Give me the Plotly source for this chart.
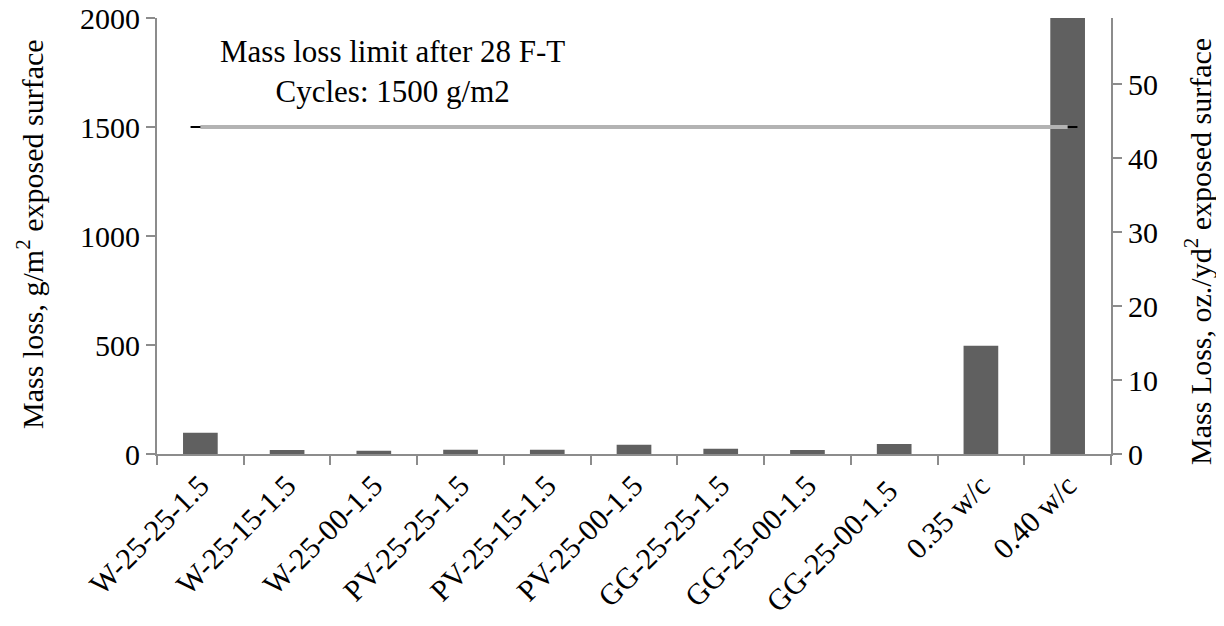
import plotly.graph_objects as go

categories = ["W-25-25-1.5", "W-25-15-1.5", "W-25-00-1.5", "PV-25-25-1.5", "PV-25-15-1.5",
              "PV-25-00-1.5", "GG-25-25-1.5", "GG-25-00-1.5", "GG-25-00-1.5 ", "0.35 w/c", "0.40 w/c"]
mass_loss = [98, 18, 15, 19, 19, 43, 24, 18, 46, 497, 2000]
limit_x = [categories[0], categories[-1]]
limit_y = [1500, 1500]
g_per_oz_yd2 = 33.906

font = dict(family="Liberation Serif", size=30, color="black")
axis_grey = "#8c8c8c"

fig = go.Figure()
fig.add_trace(go.Bar(x=categories, y=mass_loss, marker=dict(color="#606060", line=dict(width=0)),
                     width=0.4, showlegend=False))
# black end caps under the limit line
fig.add_trace(go.Scatter(x=limit_x, y=limit_y, mode="markers", showlegend=False,
                         marker=dict(symbol="line-ew", size=14, line=dict(color="black", width=2))))
fig.add_trace(go.Scatter(x=limit_x, y=limit_y, mode="lines", showlegend=False,
                         line=dict(color="#b3b3b3", width=4)))
# dummy trace to hold the secondary axis
fig.add_trace(go.Scatter(x=[categories[0]], y=[0], yaxis="y2", mode="markers",
                         marker=dict(opacity=0), showlegend=False, hoverinfo="skip"))

# page has an 8px body margin, so the figure is 8px smaller
fig.update_layout(
    width=1216, height=618,
    margin=dict(l=149, r=113, t=10, b=172),
    paper_bgcolor="white", plot_bgcolor="white",
    font=font,
    xaxis=dict(type="category", tickangle=-45, showline=True, linecolor=axis_grey, linewidth=2,
               ticks="outside", tickson="boundaries", ticklen=9, tickcolor=axis_grey, tickwidth=2,
               showgrid=False, zeroline=False, range=[-0.5, 10.5], tickfont=font, automargin=False),
    yaxis=dict(range=[0, 2000], tickvals=[0, 500, 1000, 1500, 2000], showline=True,
               linecolor=axis_grey, linewidth=2, ticks="outside", ticklen=9, tickcolor=axis_grey,
               tickwidth=2, showgrid=False, zeroline=False, tickfont=font, automargin=False,
               ticklabeloverflow="allow"),
    yaxis2=dict(overlaying="y", side="right", range=[0, 2000 / g_per_oz_yd2],
                tickvals=[0, 10, 20, 30, 40, 50], showline=True, linecolor=axis_grey, linewidth=2,
                ticks="outside", ticklen=9, tickcolor=axis_grey, tickwidth=2, showgrid=False,
                zeroline=False, tickfont=font, automargin=False, ticklabeloverflow="allow"),
    bargap=0.6,
)

fig.add_annotation(text="Mass loss limit after 28 F-T<br>Cycles: 1500 g/m2", xref="paper", yref="paper",
                   x=(392 - 157) / 954, y=(454 - 71) / 436, xanchor="center", yanchor="middle",
                   showarrow=False, font=dict(family=font["family"], size=31, color="black"),
                   align="center")
fig.add_annotation(text="Mass loss, g/m<sup>2</sup> exposed surface", xref="paper", yref="paper",
                   x=(30 - 157) / 954, y=(454 - 234) / 436, xanchor="center", yanchor="middle",
                   textangle=-90, showarrow=False, font=font)
fig.add_annotation(text="Mass Loss, oz./yd<sup>2</sup> exposed surface", xref="paper", yref="paper",
                   x=(1198 - 157) / 954, y=(454 - 252) / 436, xanchor="center", yanchor="middle",
                   textangle=-90, showarrow=False, font=font)

fig.write_html("out.html")
